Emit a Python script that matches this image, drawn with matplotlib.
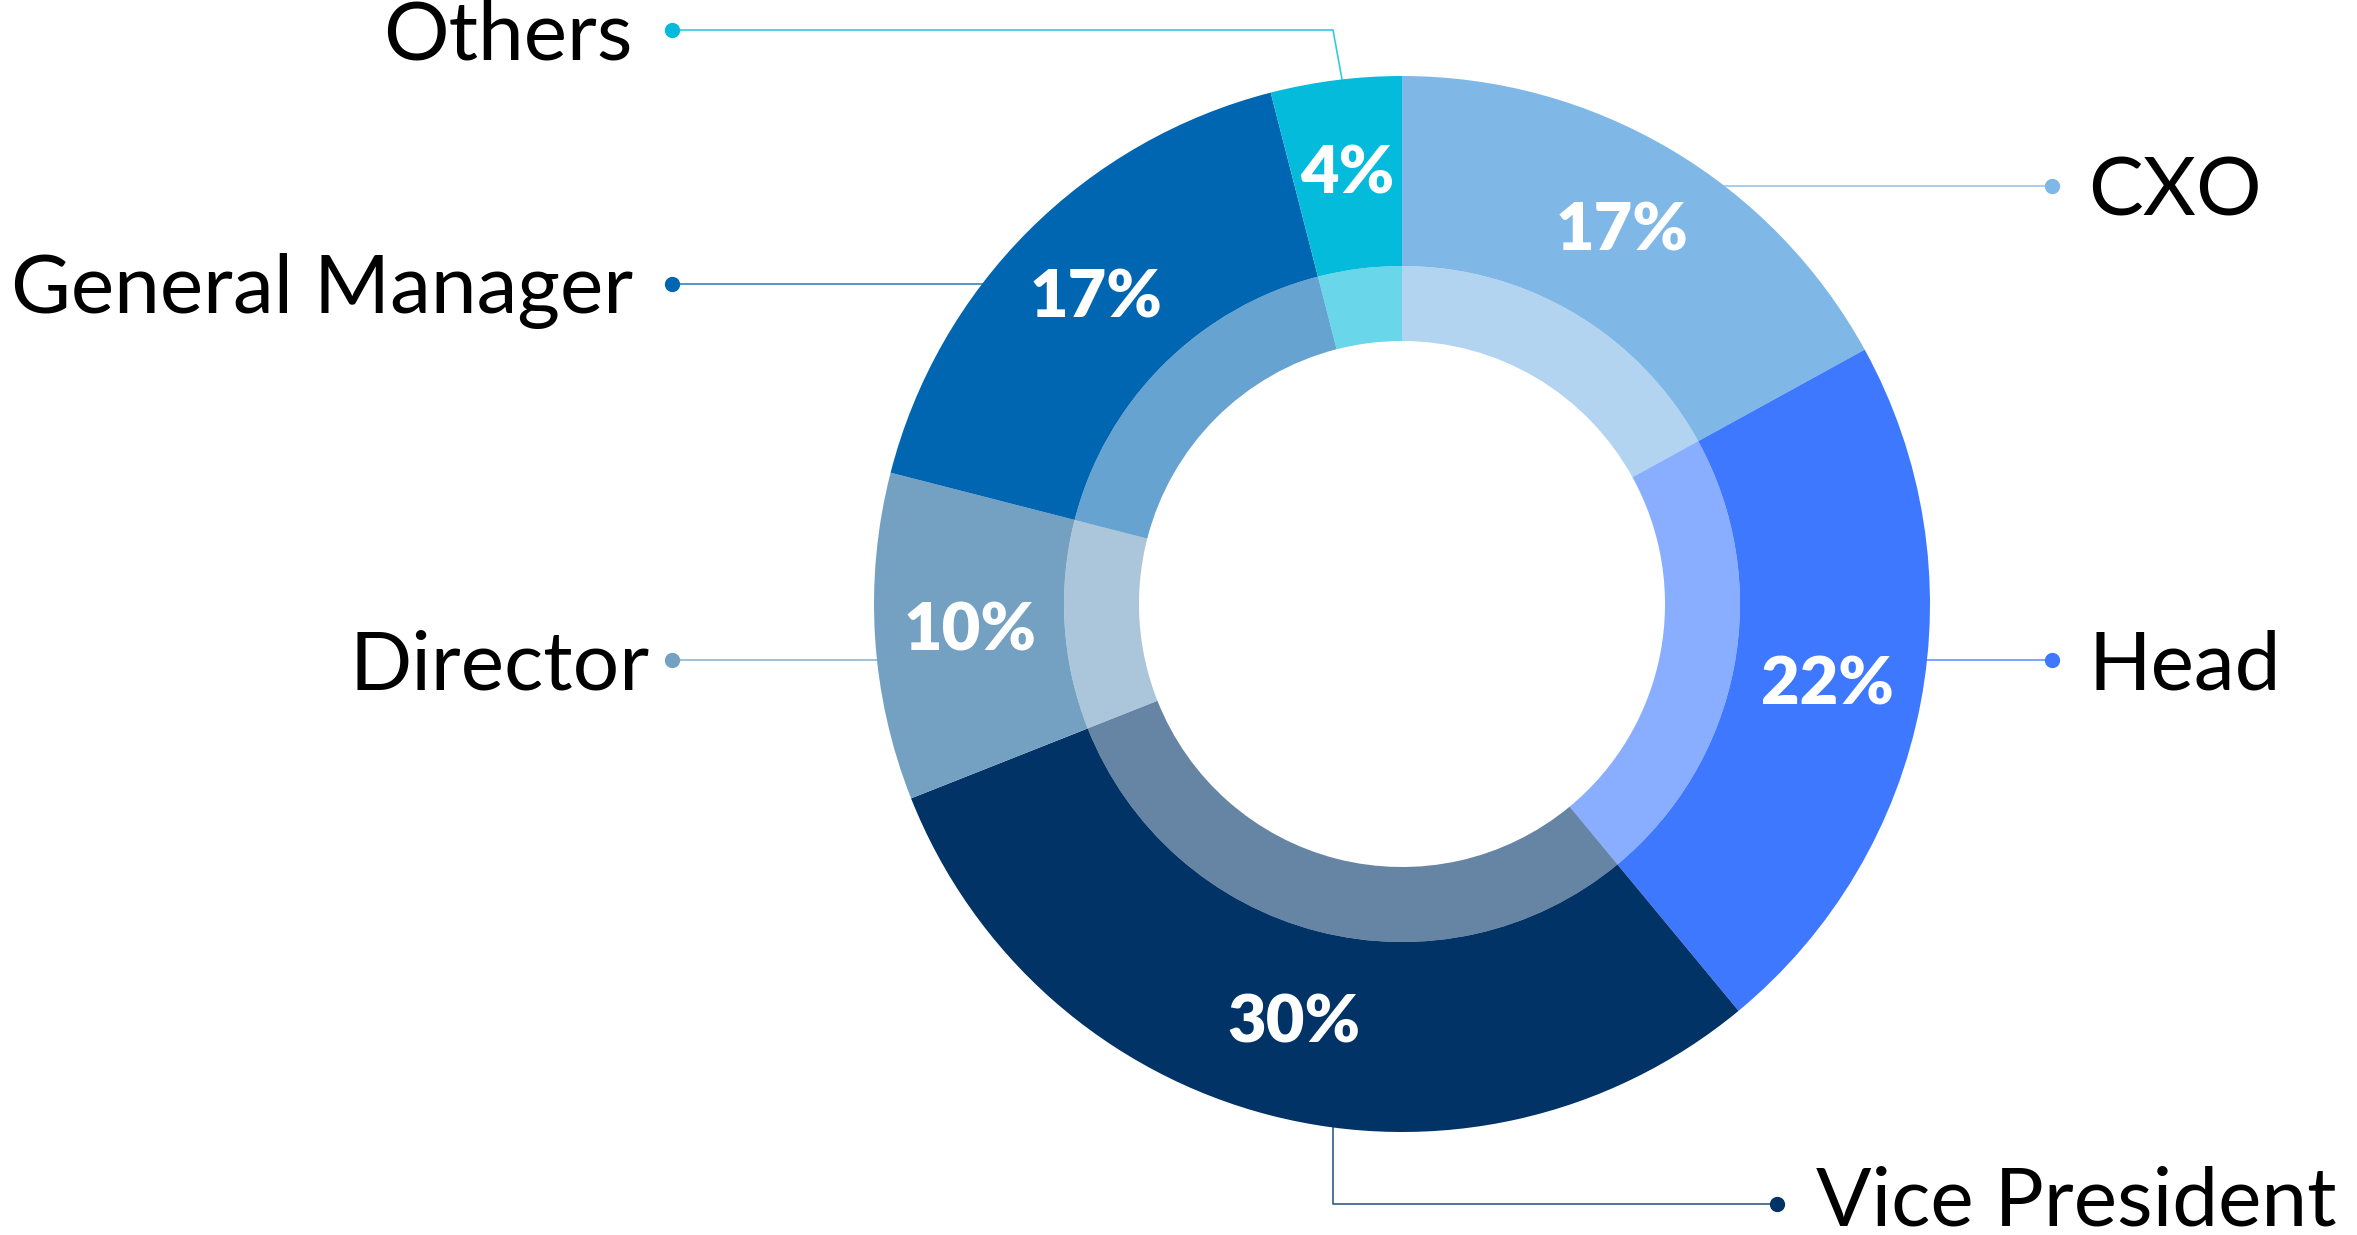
import numpy as np
import matplotlib
matplotlib.use('Agg')
import matplotlib.pyplot as plt

# data
labels = ['CXO', 'Head', 'Vice President', 'Director', 'General Manager', 'Others']
shares = [17, 22, 30, 10, 17, 4]
colors = ['#7FB8E6', '#3D78FF', '#013366', '#74A1C2', '#0066B2', '#05BBDB']

# layout (pixels, y measured upward)
W, H = 2357, 1235
cx, cy = 1402, 631
R_out, R_mid, R_in = 528, 338, 263
callouts = {
    'CXO': ('right', 1049),
    'Head': ('right', 575),
    'Vice President': ('bottom', 1333),
    'Director': ('left', 575),
    'General Manager': ('left', 951),
    'Others': ('left', 1205),
}
dot_left_x, dot_right_x = 672, 2052
vp_y, vp_dot_x = 31, 1777

fig = plt.figure(figsize=(W / 100, H / 100), dpi=100)
ax = fig.add_axes([0, 0, 1, 1])

ax.pie(shares, radius=R_out, center=(cx, cy), startangle=90, counterclock=False,
       colors=colors, wedgeprops=dict(width=R_out - R_mid, linewidth=0),
       autopct=lambda p: '{:.0f}%'.format(p), pctdistance=0.82,
       textprops=dict(color='white', fontsize=48, fontweight='heavy', family='Lato'))
ax.pie(shares, radius=R_mid, center=(cx, cy), startangle=90, counterclock=False,
       colors=colors, wedgeprops=dict(width=R_mid - R_in, linewidth=0, alpha=0.6))

label_font = dict(fontsize=59, family='Lato', color='black', va='baseline')
cap = 29
for name, col in zip(labels, colors):
    side, pos = callouts[name]
    if side == 'bottom':
        x_edge = pos
        y_edge = cy - np.sqrt(R_out ** 2 - (pos - cx) ** 2)
        ax.plot([x_edge, x_edge, vp_dot_x], [y_edge, vp_y, vp_y], color=col, lw=1.2, alpha=0.8)
        ax.plot(vp_dot_x, vp_y, 'o', color=col, ms=10)
        ax.text(vp_dot_x + 39, vp_y - cap + 8, name, ha='left', **label_font)
        continue
    y = pos
    dx = np.sqrt(R_out ** 2 - (y - cy) ** 2)
    if side == 'right':
        x_edge = cx + dx
        ax.plot([x_edge, dot_right_x], [y, y], color=col, lw=1.2, alpha=0.8)
        ax.plot(dot_right_x, y, 'o', color=col, ms=10)
        ax.text(dot_right_x + 36, y - cap, name, ha='left', **label_font)
    else:
        if name == 'Others':
            # bends down to the thin slice
            x_edge = 1342
            y_edge = cy + np.sqrt(R_out ** 2 - (x_edge - cx) ** 2)
            ax.plot([dot_left_x, 1333, x_edge], [y, y, y_edge], color=col, lw=1.2, alpha=0.8)
        else:
            x_edge = cx - dx
            ax.plot([dot_left_x, x_edge], [y, y], color=col, lw=1.2, alpha=0.8)
        ax.plot(dot_left_x, y, 'o', color=col, ms=10)
        gap = 22 if name == 'Director' else 39
        ax.text(dot_left_x - gap, y - cap, name, ha='right', **label_font)

ax.set_xlim(0, W)
ax.set_ylim(0, H)
ax.set_aspect('equal')
ax.axis('off')
fig.savefig('out.png', dpi=100, facecolor='white')
